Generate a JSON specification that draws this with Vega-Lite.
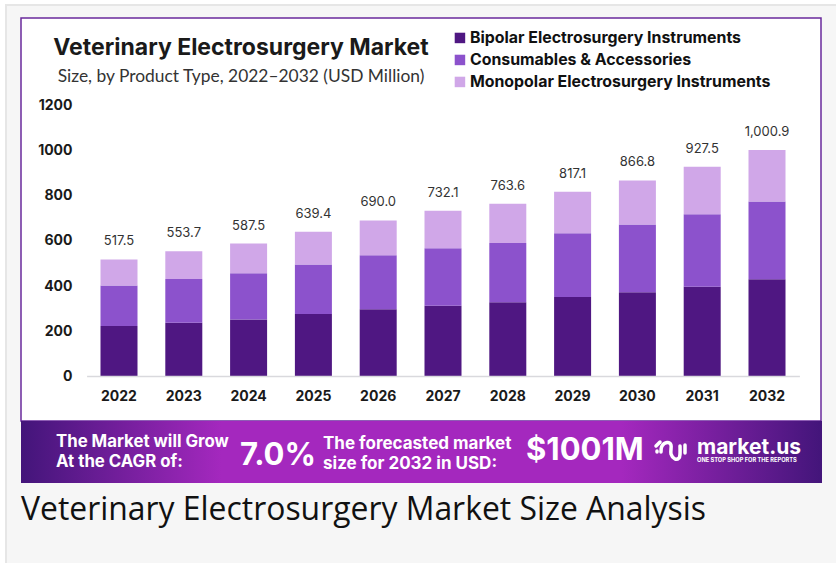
{"$schema":"https://vega.github.io/schema/vega-lite/v6.json","width":836,"height":563,"autosize":"none","padding":0,"background":"#ffffff","config":{"view":{"stroke":null}},
"title":{"text":"Veterinary Electrosurgery Market","subtitle":"Size, by Product Type, 2022–2032 (USD Million)","anchor":"middle","frame":"group","dx":-177,"dy":107,"font":"Inter","fontSize":23,"fontWeight":700,"color":"#1a1a1a","subtitleFont":"Lato","subtitleFontSize":17.4,"subtitleColor":"#333333","subtitlePadding":4,"baseline":"alphabetic"},
"layer":[
{"data":{"values":[{"panel":"page"}]},"mark":{"type":"rect","fill":"#f6f6f6","stroke":"#e6e6e6","strokeWidth":2},"encoding":{"x":{"field":"panel","type":"nominal","axis":null,"scale":{"type":"band","range":[6,840],"paddingInner":0,"paddingOuter":0}},"y":{"field":"panel","type":"nominal","axis":null,"scale":{"type":"band","range":[5,570],"paddingInner":0,"paddingOuter":0}}}},
{"data":{"values":[{"panel":"card"}]},"mark":{"type":"rect","fill":"#ffffff","stroke":"#6a2a9c","strokeWidth":1.5},"encoding":{"x":{"field":"panel","type":"nominal","axis":null,"scale":{"type":"band","range":[21,821],"paddingInner":0,"paddingOuter":0}},"y":{"field":"panel","type":"nominal","axis":null,"scale":{"type":"band","range":[18,421],"paddingInner":0,"paddingOuter":0}}}},
{"data":{"values":[{"panel":"banner"}]},"mark":{"type":"rect","fill":{"gradient":"linear","x1":0,"x2":1,"y1":0,"y2":0,"stops":[{"offset":0,"color":"#43157a"},{"offset":0.25,"color":"#a428be"},{"offset":0.75,"color":"#a428be"},{"offset":1,"color":"#43157a"}]}},"encoding":{"x":{"field":"panel","type":"nominal","axis":null,"scale":{"type":"band","range":[21,822],"paddingInner":0,"paddingOuter":0}},"y":{"field":"panel","type":"nominal","axis":null,"scale":{"type":"band","range":[421,483],"paddingInner":0,"paddingOuter":0}}}},
{"data":{"values":[
{"year":"2022","segment":"Bipolar Electrosurgery Instruments","value":223},{"year":"2022","segment":"Consumables & Accessories","value":179},{"year":"2022","segment":"Monopolar Electrosurgery Instruments","value":115.5},
{"year":"2023","segment":"Bipolar Electrosurgery Instruments","value":238},{"year":"2023","segment":"Consumables & Accessories","value":193},{"year":"2023","segment":"Monopolar Electrosurgery Instruments","value":122.7},
{"year":"2024","segment":"Bipolar Electrosurgery Instruments","value":252},{"year":"2024","segment":"Consumables & Accessories","value":204},{"year":"2024","segment":"Monopolar Electrosurgery Instruments","value":131.5},
{"year":"2025","segment":"Bipolar Electrosurgery Instruments","value":276},{"year":"2025","segment":"Consumables & Accessories","value":219},{"year":"2025","segment":"Monopolar Electrosurgery Instruments","value":144.4},
{"year":"2026","segment":"Bipolar Electrosurgery Instruments","value":297},{"year":"2026","segment":"Consumables & Accessories","value":239},{"year":"2026","segment":"Monopolar Electrosurgery Instruments","value":154},
{"year":"2027","segment":"Bipolar Electrosurgery Instruments","value":313},{"year":"2027","segment":"Consumables & Accessories","value":254},{"year":"2027","segment":"Monopolar Electrosurgery Instruments","value":165.1},
{"year":"2028","segment":"Bipolar Electrosurgery Instruments","value":328},{"year":"2028","segment":"Consumables & Accessories","value":262},{"year":"2028","segment":"Monopolar Electrosurgery Instruments","value":173.6},
{"year":"2029","segment":"Bipolar Electrosurgery Instruments","value":351},{"year":"2029","segment":"Consumables & Accessories","value":282},{"year":"2029","segment":"Monopolar Electrosurgery Instruments","value":184.1},
{"year":"2030","segment":"Bipolar Electrosurgery Instruments","value":372},{"year":"2030","segment":"Consumables & Accessories","value":300},{"year":"2030","segment":"Monopolar Electrosurgery Instruments","value":194.8},
{"year":"2031","segment":"Bipolar Electrosurgery Instruments","value":397},{"year":"2031","segment":"Consumables & Accessories","value":320},{"year":"2031","segment":"Monopolar Electrosurgery Instruments","value":210.5},
{"year":"2032","segment":"Bipolar Electrosurgery Instruments","value":430},{"year":"2032","segment":"Consumables & Accessories","value":343},{"year":"2032","segment":"Monopolar Electrosurgery Instruments","value":227.9}
]},"mark":{"type":"bar","width":37},"encoding":{
"x":{"field":"year","type":"nominal","scale":{"type":"band","range":[86.6,799.4],"paddingInner":0,"paddingOuter":0},"axis":{"title":null,"zindex":1,"offset":-187,"labelAngle":0,"ticks":false,"domainColor":"#d9d9dd","domainWidth":1.5,"labelPadding":13,"labelFont":"Inter","labelFontSize":14,"labelFontWeight":700,"labelColor":"#1a1a1a"}},
"y":{"field":"value","type":"quantitative","stack":"zero","scale":{"domain":[0,1200],"range":[376.5,105]},"axis":{"title":null,"zindex":1,"values":[0,200,400,600,800,1000,1200],"format":"d","offset":-72,"domain":false,"ticks":false,"grid":false,"labelPadding":0,"labelFont":"Inter","labelFontSize":14,"labelFontWeight":700,"labelColor":"#1a1a1a"}},
"color":{"field":"segment","type":"nominal","scale":{"domain":["Bipolar Electrosurgery Instruments","Consumables & Accessories","Monopolar Electrosurgery Instruments"],"range":["#4f1782","#8c52cc","#d0a7e8"]},"legend":{"title":null,"orient":"none","legendX":452,"legendY":30,"symbolType":"square","symbolSize":110,"symbolStrokeWidth":0,"labelFont":"Inter","labelFontSize":15.9,"labelFontWeight":700,"labelColor":"#111111","labelLimit":400,"labelOffset":2,"rowPadding":5,"symbolOffset":0}},
"order":{"field":"segment"}}},
{"data":{"values":[{"year":"2022","total":517.5,"label":"517.5"},{"year":"2023","total":553.7,"label":"553.7"},{"year":"2024","total":587.5,"label":"587.5"},{"year":"2025","total":639.4,"label":"639.4"},{"year":"2026","total":690.0,"label":"690.0"},{"year":"2027","total":732.1,"label":"732.1"},{"year":"2028","total":763.6,"label":"763.6"},{"year":"2029","total":817.1,"label":"817.1"},{"year":"2030","total":866.8,"label":"866.8"},{"year":"2031","total":927.5,"label":"927.5"},{"year":"2032","total":1000.9,"label":"1,000.9"}]},"mark":{"type":"text","font":"Inter","fontSize":13,"color":"#333333","baseline":"bottom","dy":-11},"encoding":{"x":{"field":"year","type":"nominal","axis":null,"scale":{"type":"band","range":[86.6,799.4],"paddingInner":0,"paddingOuter":0}},"y":{"field":"total","type":"quantitative","axis":null,"scale":{"domain":[0,1200],"range":[376.5,105]}},"text":{"field":"label"}}},
{"data":{"values":[{"line":"a","label":"The Market will Grow"},{"line":"b","label":"At the CAGR of:"}]},"mark":{"type":"text","font":"Inter","fontSize":16.8,"fontWeight":700,"color":"#ffffff","align":"left","baseline":"middle"},"encoding":{"x":{"field":"line","type":"nominal","axis":null,"scale":{"type":"point","domain":["a","b"],"range":[56,56],"padding":0}},"y":{"field":"line","type":"nominal","axis":null,"scale":{"type":"point","domain":["a","b"],"range":[442,462],"padding":0}},"text":{"field":"label"}}},
{"data":{"values":[{"line":"a","label":"The forecasted market"},{"line":"b","label":"size for 2032 in USD:"}]},"mark":{"type":"text","font":"Inter","fontSize":17,"fontWeight":700,"color":"#ffffff","align":"left","baseline":"middle"},"encoding":{"x":{"field":"line","type":"nominal","axis":null,"scale":{"type":"point","domain":["a","b"],"range":[323,323],"padding":0}},"y":{"field":"line","type":"nominal","axis":null,"scale":{"type":"point","domain":["a","b"],"range":[444,464],"padding":0}},"text":{"field":"label"}}},
{"data":{"values":[{"slot":"cagr","label":"7.0%"},{"slot":"size","label":"$1001M"}]},"mark":{"type":"text","font":"Inter","fontSize":31,"fontWeight":700,"color":"#ffffff","align":"left","baseline":"middle"},"encoding":{"x":{"field":"slot","type":"nominal","axis":null,"scale":{"type":"point","domain":["cagr","size"],"range":[240,526],"padding":0}},"y":{"field":"slot","type":"nominal","axis":null,"scale":{"type":"point","domain":["cagr","size"],"range":[456,451],"padding":0}},"text":{"field":"label"}}},
{"data":{"values":[
{"part":"dot","u":7,"v":13},{"part":"dot","u":7,"v":14},
{"part":"arc","u":6,"v":8},{"part":"arc","u":10,"v":4},
{"part":"wave","u":11,"v":14},{"part":"wave","u":12,"v":8},{"part":"wave","u":17,"v":4.5},{"part":"wave","u":21,"v":7},{"part":"wave","u":21,"v":16},{"part":"wave","u":25,"v":21},{"part":"wave","u":29,"v":20},{"part":"wave","u":30,"v":16},{"part":"wave","u":30,"v":8},
{"part":"bar","u":35,"v":7},{"part":"bar","u":35,"v":15}
]},"mark":{"type":"line","color":"#ffffff","strokeWidth":3.5,"strokeCap":"round","strokeJoin":"round","interpolate":"cardinal"},"encoding":{"x":{"field":"u","type":"quantitative","axis":null,"scale":{"domain":[0,50],"range":[650,700]}},"y":{"field":"v","type":"quantitative","axis":null,"scale":{"domain":[0,32],"range":[438,470]}},"detail":{"field":"part"}}},
{"data":{"values":[{"slot":"brand","label":"market.us"}]},"mark":{"type":"text","font":"Inter","fontSize":21,"fontWeight":700,"color":"#ffffff","align":"left","baseline":"middle"},"encoding":{"x":{"field":"slot","type":"nominal","axis":null,"scale":{"type":"point","domain":["brand"],"range":[697,697],"padding":0}},"y":{"field":"slot","type":"nominal","axis":null,"scale":{"type":"point","domain":["brand"],"range":[448,448],"padding":0}},"text":{"field":"label"}}},
{"data":{"values":[{"slot":"tag","label":"ONE STOP SHOP FOR THE REPORTS"}]},"mark":{"type":"text","font":"Inter","fontSize":5.7,"fontWeight":700,"color":"#ffffff","align":"left","baseline":"middle"},"encoding":{"x":{"field":"slot","type":"nominal","axis":null,"scale":{"type":"point","domain":["tag"],"range":[697,697],"padding":0}},"y":{"field":"slot","type":"nominal","axis":null,"scale":{"type":"point","domain":["tag"],"range":[460,460],"padding":0}},"text":{"field":"label"}}},
{"data":{"values":[{"slot":"caption","label":"Veterinary Electrosurgery Market Size Analysis"}]},"mark":{"type":"text","font":"Open Sans","fontSize":31.9,"color":"#111111","align":"left","baseline":"middle"},"encoding":{"x":{"field":"slot","type":"nominal","axis":null,"scale":{"type":"point","domain":["caption"],"range":[21,21],"padding":0}},"y":{"field":"slot","type":"nominal","axis":null,"scale":{"type":"point","domain":["caption"],"range":[510,510],"padding":0}},"text":{"field":"label"}}}
],
"resolve":{"scale":{"x":"independent","y":"independent","color":"independent"},"axis":{"x":"independent","y":"independent"}}}
